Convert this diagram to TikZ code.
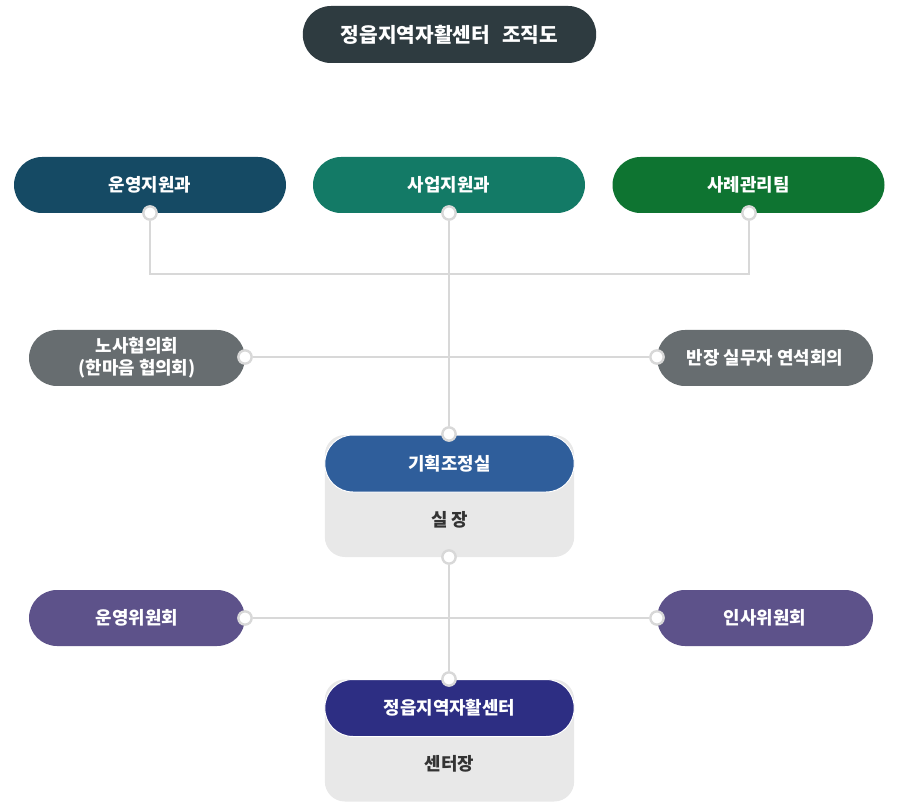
\documentclass[tikz,border=0pt]{standalone}
\usepackage{fontspec}
\setmainfont{Noto Sans CJK KR}
\usetikzlibrary{positioning}
\definecolor{titlegray}{HTML}{2E3B40}
\definecolor{opsblue}{HTML}{154A64}
\definecolor{bizteal}{HTML}{137A66}
\definecolor{casegreen}{HTML}{0E7431}
\definecolor{councilgray}{HTML}{676D70}
\definecolor{planblue}{HTML}{2F5E9B}
\definecolor{boxgray}{HTML}{E8E8E8}
\definecolor{comviolet}{HTML}{5D528A}
\definecolor{centernavy}{HTML}{2D2E83}
\definecolor{linegray}{HTML}{D8D8D8}
\definecolor{textdark}{HTML}{333333}

\begin{document}
\begin{tikzpicture}[x=0.75pt, y=-0.75pt]

% Styles
\tikzset{
    pill/.style={rectangle, rounded corners=21pt, minimum height=42pt, inner sep=0pt, text=white, align=center, font=\bfseries\fontsize{13.4}{16.5}\selectfont},
    unitbox/.style={pill, minimum width=204pt},
    councilbox/.style={pill, minimum width=162pt},
    headbox/.style={pill, minimum width=187pt, minimum height=42.75pt, draw=white, line width=0.75pt},
    basebox/.style={rectangle, rounded corners=15pt, fill=boxgray, minimum width=187pt, minimum height=91.5pt},
    basetext/.style={text=textdark, font=\bfseries\fontsize{13.4}{16.5}\selectfont},
    dot/.style={circle, draw=linegray, fill=white, line width=1.8pt, minimum size=10pt, inner sep=0pt},
    link/.style={draw=linegray, line width=1.7pt}
}

\useasboundingbox (0,0) rectangle (900,809);

% Title
\node[pill, fill=titlegray, minimum width=220pt, minimum height=42.75pt, font=\bfseries\fontsize{15.2}{18}\selectfont] (title) at (449.5,34.5) {정읍지역자활센터\hspace{0.6em}조직도};

% Top units
\node[unitbox, fill=opsblue] (ops) at (150,185) {운영지원과};
\node[unitbox, fill=bizteal] (biz) at (449,185) {사업지원과};
\node[unitbox, fill=casegreen] (case) at (748.5,185) {사례관리팀};

% Councils
\node[councilbox, fill=councilgray] (labor) at (137,358) {노사협의회\\(한마음 협의회)};
\node[councilbox, fill=councilgray] (foreman) at (765,358) {반장 실무자 연석회의};

% Planning office
\node[basebox] (planbase) at (449.5,496) {};
\node[headbox, fill=planblue] (plan) at (449.5,463.5) {기획조정실};
\node[basetext] (chief) at (449.5,520) {실 장};

% Committees
\node[councilbox, fill=comviolet] (opscom) at (137,618) {운영위원회};
\node[councilbox, fill=comviolet] (hrcom) at (765,618) {인사위원회};

% Center
\node[basebox] (ctrbase) at (449.5,740.5) {};
\node[headbox, fill=centernavy] (ctr) at (449.5,708) {정읍지역자활센터};
\node[basetext] (director) at (449.5,764) {센터장};

% Dots
\node[dot] (dops) at (150,213) {};
\node[dot] (dbiz) at (449,213) {};
\node[dot] (dcase) at (749,213) {};
\node[dot] (dlabor) at (245,357) {};
\node[dot] (dforeman) at (657,357) {};
\node[dot] (dplantop) at (449,434) {};
\node[dot] (dplanbot) at (449,557) {};
\node[dot] (dopscom) at (245,618) {};
\node[dot] (dhrcom) at (657,618) {};
\node[dot] (dctr) at (449,679) {};
\coordinate (join) at (449,274);

% Links
\draw[link] (dops) |- (join) -| (dcase);
\draw[link] (dbiz) -- (dplantop);
\draw[link] (dlabor) -- (dforeman);
\draw[link] (dplanbot) -- (dctr);
\draw[link] (dopscom) -- (dhrcom);

\end{tikzpicture}
\end{document}
